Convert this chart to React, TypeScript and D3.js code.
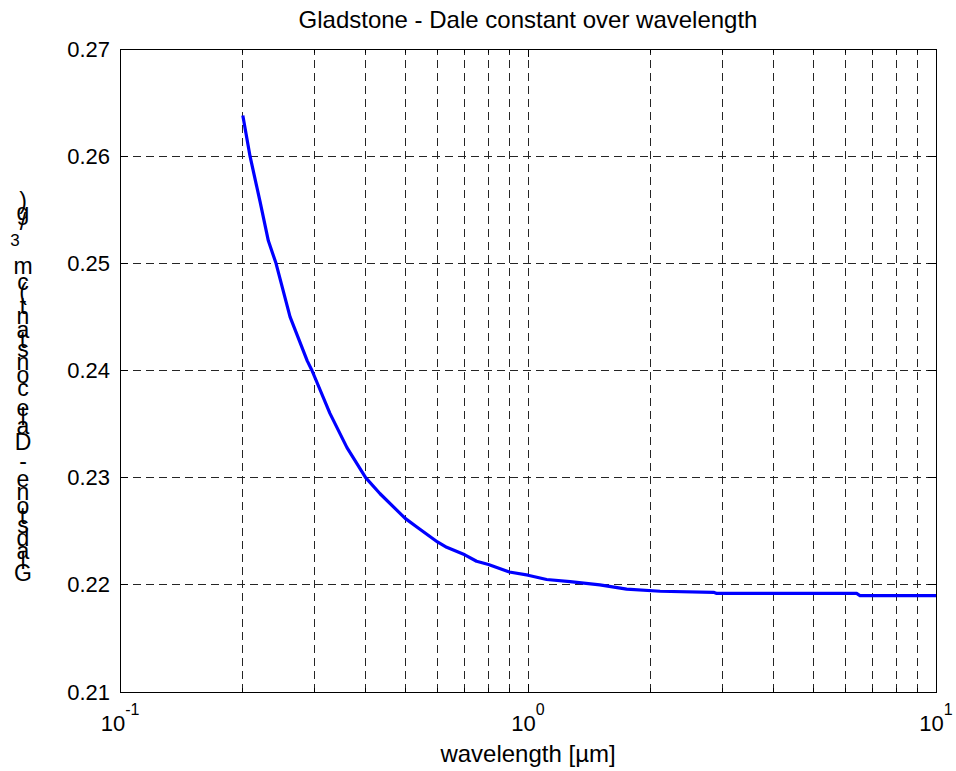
import React from 'react';
import * as d3 from 'd3';

// ---- data ----
const wavelength = [0.2, 0.2083, 0.2203, 0.231, 0.2412, 0.2611, 0.2877, 0.2955, 0.327, 0.36, 0.4, 0.434, 0.5, 0.534, 0.6, 0.632, 0.7, 0.748, 0.8, 0.9, 1.0, 1.111, 1.268, 1.5, 1.745, 2.107, 2.85, 2.9, 6.39, 6.51, 10];
const gdConstant = [0.2638, 0.26, 0.2558, 0.2521, 0.25, 0.245, 0.2409, 0.24, 0.236, 0.2328, 0.23, 0.2285, 0.2262, 0.2254, 0.224, 0.2235, 0.2228, 0.2222, 0.2219, 0.2212, 0.2209, 0.2205, 0.2203, 0.22, 0.2196, 0.2194, 0.2193, 0.2192, 0.2192, 0.219, 0.219];
const yTicks = [0.21, 0.22, 0.23, 0.24, 0.25, 0.26, 0.27];
const yTickLabels = ['0.21', '0.22', '0.23', '0.24', '0.25', '0.26', '0.27'];
const xMajorTicks = [0.1, 1, 10];
const xTickExponents = ['-1', '0', '1'];
const xMinorMultipliers = [2, 3, 4, 5, 6, 7, 8, 9];
const titleText = 'Gladstone - Dale constant over wavelength';
const xLabelText = 'wavelength [µm]';
const yLabelText = 'Gladstone - Dale constant (cm3/g)';
const yLabelSuperscriptIndex = 29; // the "3"

const FONT = '"Liberation Sans", Arial, Helvetica, sans-serif';
const W = 956;
const H = 771;
const L = 120, R = 936, T = 49, B = 692;

// Arial advance widths (em)
const ADV: Record<string, number> = {
  G: 0.778, l: 0.222, a: 0.556, d: 0.556, s: 0.5, t: 0.278, o: 0.556, n: 0.556, e: 0.556,
  ' ': 0.278, '-': 0.333, D: 0.722, c: 0.5, '(': 0.333, m: 0.833, '3': 0.556, '/': 0.278,
  g: 0.556, ')': 0.333,
};

export default function App() {
  const x = d3.scaleLog().domain([0.1, 10]).range([L, R]);
  const y = d3.scaleLinear().domain([0.21, 0.27]).range([B, T]);

  const minorX: number[] = [];
  [0.1, 1].forEach((d) => xMinorMultipliers.forEach((k) => minorX.push(k * d)));
  const allX = [...xMajorTicks, ...minorX];

  const line = d3
    .line<number>()
    .x((_, i) => x(wavelength[i]))
    .y((d) => y(d));

  // stacked upright glyphs of the y label
  const emPx = 24.2;
  const gCenterY = 573;
  const y0 = gCenterY + (ADV['G'] / 2) * emPx;
  let cum = 0;
  const glyphs: { ch: string; cy: number; sup: boolean }[] = [];
  yLabelText.split('').forEach((ch, i) => {
    const sup = i === yLabelSuperscriptIndex;
    const adv = sup ? 1.25 : ADV[ch] ?? 0.5;
    const center = cum + adv / 2;
    if (ch !== ' ') glyphs.push({ ch, cy: y0 - center * emPx, sup });
    cum += adv;
  });

  const dash = '8,5';

  return (
    <svg width={W} height={H} style={{ position: 'absolute', left: 0, top: 0, background: '#fff' }}
      fontFamily={FONT}>
      <rect x={0} y={0} width={W} height={H} fill="#fff" />
      <rect x={L} y={T} width={R - L} height={B - T} fill="#fff" />
      {/* grid */}
      <g stroke="#000" strokeWidth={1} strokeDasharray={dash} shapeRendering="crispEdges" opacity={0.85}>
        {allX.filter((v) => v > 0.1 && v < 10).map((v, i) => (
          <line key={'gx' + i} x1={x(v)} x2={x(v)} y1={B} y2={T} />
        ))}
        {yTicks.filter((v) => v > 0.21 && v < 0.27).map((v, i) => (
          <line key={'gy' + i} x1={L} x2={R} y1={y(v)} y2={y(v)} />
        ))}
      </g>
      {/* data line */}
      <path d={line(gdConstant) || ''} fill="none" stroke="#0000ff" strokeWidth={3.2}
        strokeLinejoin="round" strokeLinecap="butt" />
      {/* box */}
      <rect x={L} y={T} width={R - L} height={B - T} fill="none" stroke="#000" strokeWidth={1}
        shapeRendering="crispEdges" />
      {/* ticks */}
      <g stroke="#000" strokeWidth={1} shapeRendering="crispEdges">
        {xMajorTicks.map((v, i) => (
          <g key={'mx' + i}>
            <line x1={x(v)} x2={x(v)} y1={B} y2={B - 8} />
            <line x1={x(v)} x2={x(v)} y1={T} y2={T + 8} />
          </g>
        ))}
        {minorX.map((v, i) => (
          <g key={'nx' + i}>
            <line x1={x(v)} x2={x(v)} y1={B} y2={B - 4} />
            <line x1={x(v)} x2={x(v)} y1={T} y2={T + 4} />
          </g>
        ))}
        {yTicks.map((v, i) => (
          <g key={'ty' + i}>
            <line x1={L} x2={L + 8} y1={y(v)} y2={y(v)} />
            <line x1={R} x2={R - 8} y1={y(v)} y2={y(v)} />
          </g>
        ))}
      </g>
      {/* y tick labels */}
      {yTicks.map((v, i) => (
        <text key={'yl' + i} x={L - 10} y={y(v) + 7.5} textAnchor="end" fontSize={22} fill="#000">
          {yTickLabels[i]}
        </text>
      ))}
      {/* x tick labels */}
      {xMajorTicks.map((v, i) => (
        <text key={'xl' + i} x={x(v)} y={731} textAnchor="middle" fontSize={22} fill="#000">
          10
          <tspan dy={-16} fontSize={16}>{xTickExponents[i]}</tspan>
        </text>
      ))}
      {/* title */}
      <text x={(L + R) / 2} y={28} textAnchor="middle" fontSize={24} fill="#000">{titleText}</text>
      {/* x label */}
      <text x={(L + R) / 2} y={762} textAnchor="middle" fontSize={24} fill="#000">{xLabelText}</text>
      {/* y label: one text, upright glyphs stacked bottom to top */}
      <text textAnchor="middle" fill="#000" fontSize={23}>
        {glyphs.map((gl, i) => (
          <tspan key={'yg' + i} x={gl.sup ? 15 : 23} y={gl.cy + (gl.sup ? 6 : 8)}
            fontSize={gl.sup ? 17 : 23}>
            {gl.ch}
          </tspan>
        ))}
      </text>
    </svg>
  );
}
